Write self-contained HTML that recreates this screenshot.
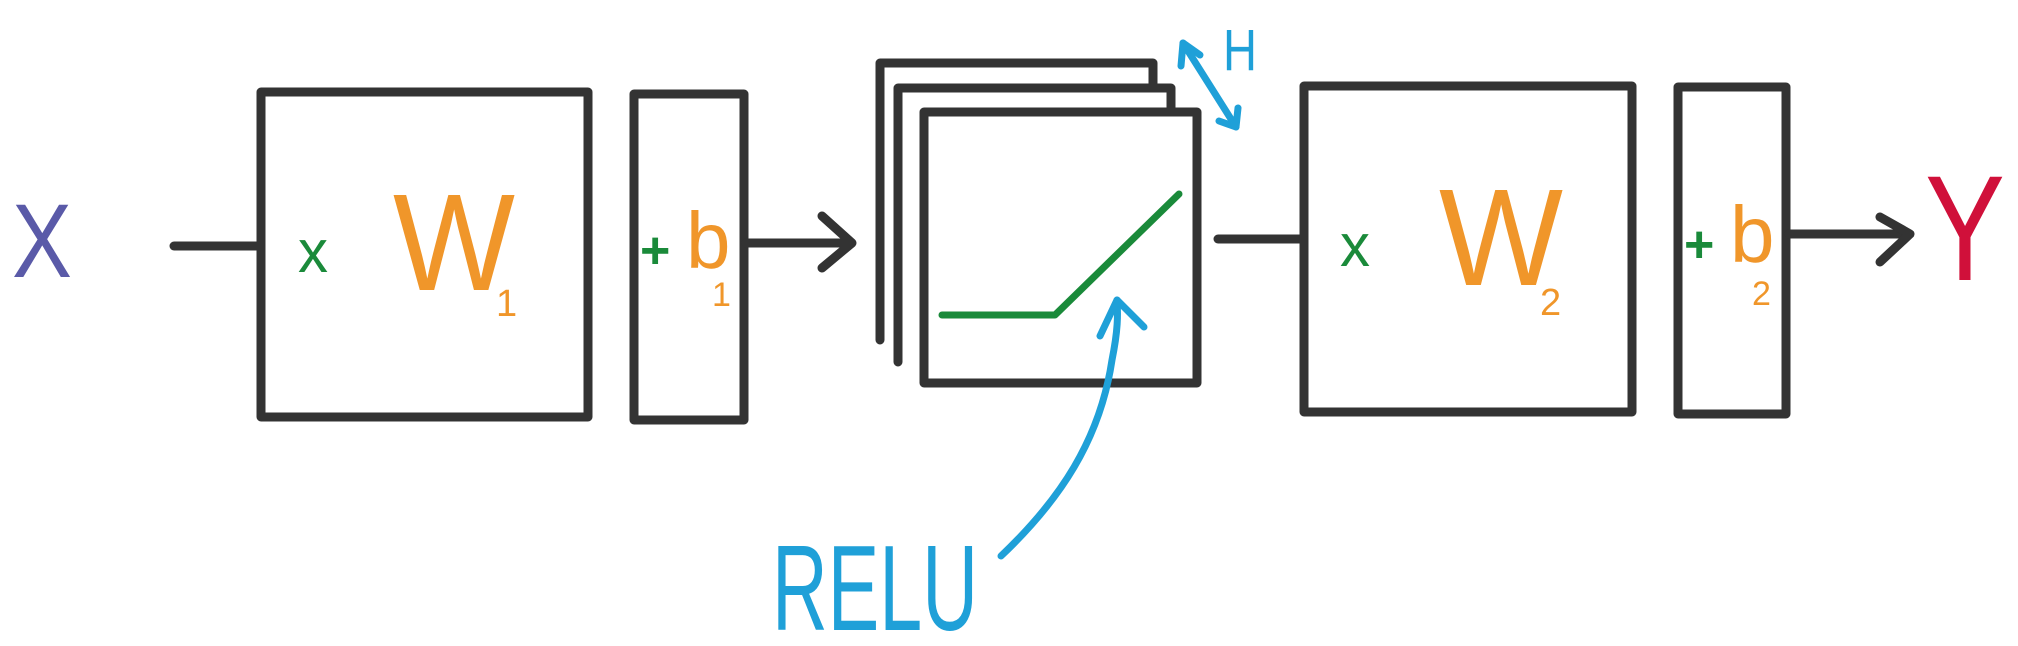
<!DOCTYPE html>
<html><head><meta charset="utf-8"><style>
html,body{margin:0;padding:0;background:#fff;}
svg{display:block;}
text{font-family:"Liberation Sans",sans-serif;}
</style></head><body>
<svg width="2018" height="646" viewBox="0 0 2018 646" xmlns="http://www.w3.org/2000/svg">
<g fill="none" stroke="#333" stroke-width="9" stroke-linecap="round" stroke-linejoin="round">
  <line x1="174" y1="246" x2="258" y2="246"/>
  <rect x="261" y="92" width="327" height="325"/>
  <rect x="634" y="94" width="110" height="326"/>
  <line x1="746" y1="243" x2="850" y2="243"/>
  <polyline points="822,216 852,243 822,268"/>
  <polyline points="880,340 880,63 1153,63 1153,86"/>
  <polyline points="898,362 898,88 1171,88 1171,111"/>
  <rect x="924" y="112" width="273" height="271" fill="#fff"/>
  <line x1="1218" y1="239" x2="1302" y2="239"/>
  <rect x="1304" y="86" width="328" height="326"/>
  <rect x="1678" y="87" width="108" height="327"/>
  <line x1="1789" y1="234" x2="1908" y2="234"/>
  <polyline points="1880,217 1910,234 1880,262"/>
</g>
<polyline points="942,315 1055,315 1179,194" fill="none" stroke="#1a8a3a" stroke-width="7" stroke-linecap="round" stroke-linejoin="round"/>
<g fill="none" stroke="#1fa0d8" stroke-width="7" stroke-linecap="round" stroke-linejoin="round">
  <path d="M1001,556 C1060,500 1100,440 1112,360 C1118,330 1118,315 1117,300"/>
  <polyline points="1100,336 1117,300 1144,327"/>
  <line x1="1183" y1="43" x2="1236" y2="127"/>
  <polyline points="1181,66 1183,43 1200,55"/>
  <polyline points="1219,121 1236,127 1238,108"/>
</g>
<text x="12" y="277" font-size="105" fill="#5a5aa8" textLength="60" lengthAdjust="spacingAndGlyphs">X</text>
<text x="298" y="272" font-size="60" fill="#1a8a3a">x</text>
<text x="393" y="290" font-size="138" fill="#f0962a" textLength="122" lengthAdjust="spacingAndGlyphs">W</text>
<text x="496" y="316" font-size="38" fill="#f0962a">1</text>
<text x="640" y="268" font-size="52" fill="#1a8a3a" font-weight="bold">+</text>
<text x="686" y="268" font-size="80" fill="#f0962a">b</text>
<text x="712" y="306" font-size="34" fill="#f0962a">1</text>
<text x="1340" y="266" font-size="60" fill="#1a8a3a">x</text>
<text x="1439" y="285" font-size="138" fill="#f0962a" textLength="124" lengthAdjust="spacingAndGlyphs">W</text>
<text x="1540" y="315" font-size="38" fill="#f0962a">2</text>
<text x="1684" y="262" font-size="52" fill="#1a8a3a" font-weight="bold">+</text>
<text x="1730" y="262" font-size="80" fill="#f0962a">b</text>
<text x="1752" y="305" font-size="34" fill="#f0962a">2</text>
<text x="1925" y="280" font-size="150" fill="#d0103a" textLength="80" lengthAdjust="spacingAndGlyphs">Y</text>
<text x="1223" y="70" font-size="58" fill="#1fa0d8" textLength="34" lengthAdjust="spacingAndGlyphs">H</text>
<text x="772" y="630" font-size="122" fill="#1fa0d8" textLength="206" lengthAdjust="spacingAndGlyphs">RELU</text>
</svg>
</body></html>
